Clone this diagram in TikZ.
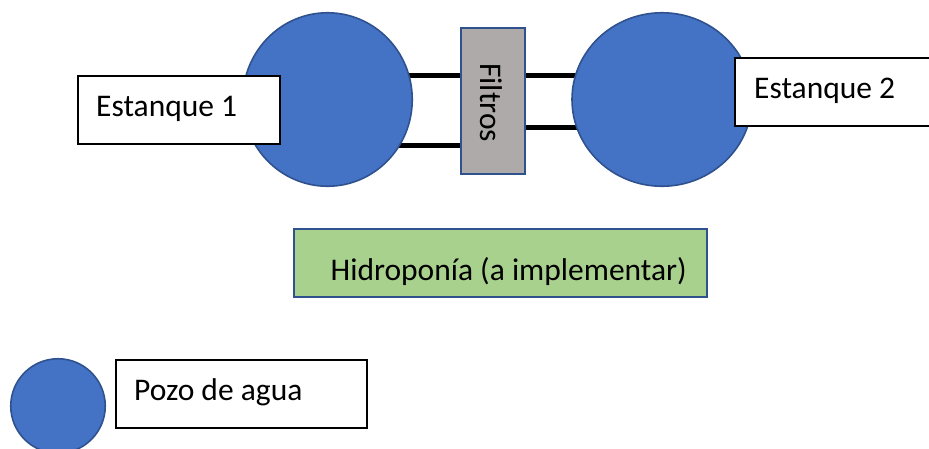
\documentclass[tikz,border=0pt]{standalone}
\usepackage{fontspec}
\setmainfont{Carlito}
\usetikzlibrary{backgrounds,shapes.geometric}
\definecolor{wellblue}{HTML}{4472C4}
\definecolor{edgeblue}{HTML}{2F528F}
\definecolor{filtergray}{HTML}{AEAAAA}
\definecolor{hydrogreen}{HTML}{A9D18E}
\begin{document}
\begin{tikzpicture}[x=1pt,y=-1pt,
  well/.style={ellipse,draw=edgeblue,fill=wellblue,line width=1.6pt,inner sep=0pt},
  labelbox/.style={rectangle,draw=black,fill=white,line width=1.8pt,inner sep=0pt},
  filterbox/.style={rectangle,draw=edgeblue,fill=filtergray,line width=1.6pt,inner sep=0pt},
  hydrobox/.style={rectangle,draw=edgeblue,fill=hydrogreen,line width=1.6pt,inner sep=0pt},
  txt/.style={inner sep=0pt,font=\fontsize{31.5}{37}\selectfont},
  pipe/.style={line width=5pt,black}]
\useasboundingbox (0,0) rectangle (929,448);
\clip (0,0) rectangle (929,448);

% tanks and filter block
\node[well,minimum width=169.5pt,minimum height=173.5pt] (c1) at (327.5,99.5) {};
\node[well,minimum width=180pt,minimum height=173.5pt] (c2) at (662,99.5) {};
\node[filterbox,minimum width=64.5pt,minimum height=146.5pt] (filt) at (493,101) {};
\node[txt,rotate=-90,anchor=base west] (filtt) at (480,63) {Filtros};

% tank labels
\node[labelbox,minimum width=202.5pt,minimum height=68.5pt] (e1) at (179,110) {};
\node[txt,anchor=base west] (e1t) at (96,116) {Estanque 1};
\node[labelbox,minimum width=205pt,minimum height=68.5pt] (e2) at (837.5,92) {};
\node[txt,anchor=base west] (e2t) at (754,98.5) {Estanque 2};

% hydroponics block
\node[hydrobox,minimum width=413.5pt,minimum height=68.5pt] (hyd) at (500.5,263) {};
\node[txt,anchor=base west] (hydt) at (330.5,280) {Hidroponía (a implementar)};

% legend
\node[well,minimum width=94.5pt,minimum height=94.5pt] (pz) at (58,406) {};
\node[labelbox,minimum width=251.5pt,minimum height=68.5pt] (pzb) at (241.5,394) {};
\node[txt,anchor=base west] (pzt) at (134,400) {Pozo de agua};

% pipes between tanks and filter
\coordinate (yTop) at (0,75);
\coordinate (yLowL) at (0,145);
\coordinate (yLowR) at (0,127);
\begin{scope}[on background layer]
  \draw[pipe] (c1.center |- yTop) -- (filt.center |- yTop);
  \draw[pipe] (c1.center |- yLowL) -- (filt.center |- yLowL);
  \draw[pipe] (filt.center |- yTop) -- (c2.center |- yTop);
  \draw[pipe] (filt.center |- yLowR) -- (c2.center |- yLowR);
\end{scope}
\end{tikzpicture}
\end{document}
